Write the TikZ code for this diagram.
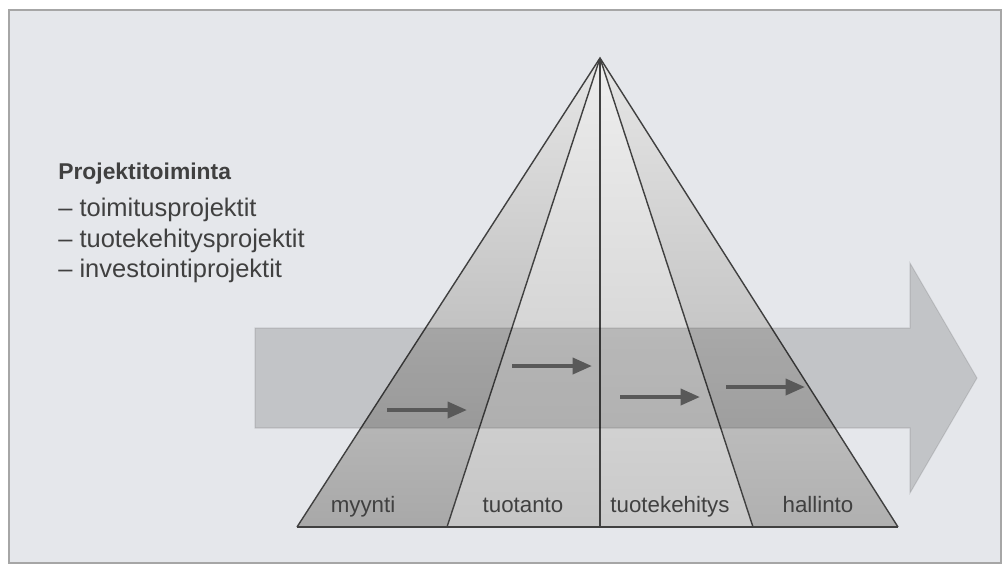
\documentclass[tikz,border=0pt]{standalone}
\usepackage{fontspec}
\setmainfont{Liberation Sans}
\usetikzlibrary{arrows.meta}
\definecolor{paper}{HTML}{E5E7EB}
\definecolor{ink}{HTML}{404040}
\tikzset{
  sector line/.style={
    draw=ink,
    line width=0.8pt
  },
  flow arrow/.style={
    fill=black,
    fill opacity=0.15,
    draw=black,
    draw opacity=0.10,
    line width=0.6pt
  },
  step arrow/.style={
    -{Triangle[length=11pt, width=9pt]},
    line width=2.3pt,
    color=gray!70!black
  },
  sector label/.style={
    anchor=base,
    font=\fontsize{12.7}{15}\selectfont,
    color=ink,
    inner sep=0pt
  },
  list item/.style={
    anchor=base west,
    inner sep=0pt,
    font=\fontsize{14.5}{17}\selectfont,
    color=ink
  }
}

\begin{document}
\begin{tikzpicture}[x=0.02cm, y=-0.02cm]
    % kehys ja tausta (1 yksikko = 1 kuvapiste)
    \useasboundingbox (0,0) rectangle (1003,566);
    \fill[white] (0,0) rectangle (1003,566);
    \filldraw[fill=paper, draw=gray!70, line width=1pt] (9,10) rectangle (1001,563);

    % pyramidin karki ja pohja
    \coordinate (apex) at (600,58);
    \coordinate (b0) at (297,527);
    \coordinate (b1) at (447,527);
    \coordinate (b2) at (600,527);
    \coordinate (b3) at (753,527);
    \coordinate (b4) at (898,527);

    % sektorit
    \shade[top color=gray!20, bottom color=gray!68] (apex) -- (b0) -- (b1) -- cycle;
    \shade[top color=gray!15, bottom color=gray!45] (apex) -- (b1) -- (b2) -- cycle;
    \shade[top color=gray!13, bottom color=gray!42] (apex) -- (b2) -- (b3) -- cycle;
    \shade[top color=gray!20, bottom color=gray!62] (apex) -- (b3) -- (b4) -- cycle;

    \draw[sector line] (b0) -- (apex) -- (b4);
    \draw[sector line] (apex) -- (b1);
    \draw[sector line] (apex) -- (b2);
    \draw[sector line] (apex) -- (b3);
    \draw[sector line, line width=1.3pt] (b0) -- (b4);

    % iso nuoli
    \path[flow arrow] (255,328) -- (910,328) -- (910,263) -- (977,378)
      -- (910,493) -- (910,428) -- (255,428) -- cycle;

    % pienet nuolet
    \foreach \xs/\xe/\y [count=\i] in {387/467/410, 512/592/366, 620/700/397, 726/805/387} {
      \coordinate (s\i) at (\xs,\y);
      \coordinate (e\i) at (\xe,\y);
      \draw[step arrow] (s\i) -- (e\i);
    }

    % toiminnot
    \node[sector label] (myynti) at (363,512) {myynti};
    \node[sector label] (tuotanto) at (523,512) {tuotanto};
    \node[sector label] (tuotekehitys) at (670,512) {tuotekehitys};
    \node[sector label] (hallinto) at (818,512) {hallinto};

    % projektitoiminta
    \node[list item, font=\fontsize{13}{16}\selectfont\bfseries] (otsikko) at (58,179) {Projektitoiminta};
    \node[list item] (toimitus) at (58,216) {– toimitusprojektit};
    \node[list item] (tuotekehitysp) at (58,247) {– tuotekehitysprojektit};
    \node[list item] (investointi) at (58,277) {– investointiprojektit};

  \end{tikzpicture}
\end{document}
